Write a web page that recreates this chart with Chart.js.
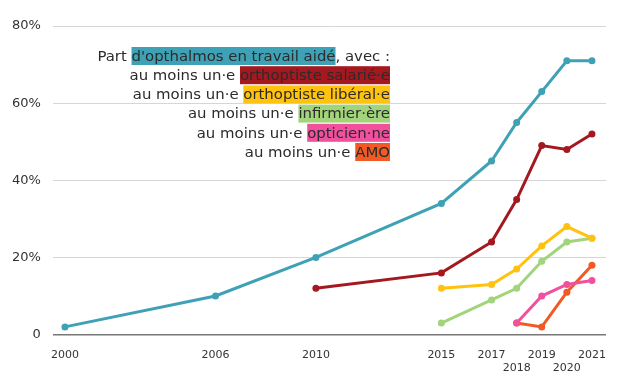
<!DOCTYPE html>
<html><head><meta charset="utf-8">
<script src="https://cdn.jsdelivr.net/npm/chart.js@4"></script>
<style>html,body{margin:0;padding:0;background:#fff}#w{width:625px;height:386px}</style>
</head><body><div id="w"><canvas id="c"></canvas></div>
<script>
const years = [2000, 2006, 2010, 2015, 2017, 2018, 2019, 2020, 2021];
const tickYears = [2000, 2006, 2010, 2015, 2017, 2018, 2019, 2020, 2021];
const lowerTickYears = [2018, 2020];
const yTicks = [0, 20, 40, 60, 80];
const travailAide = [2, 10, 20, 34, 45, 55, 63, 71, 71];
const orthoSalarieYears = [2010, 2015, 2017, 2018, 2019, 2020, 2021];
const orthoSalarie = [12, 16, 24, 35, 49, 48, 52];
const orthoLiberalYears = [2015, 2017, 2018, 2019, 2020, 2021];
const orthoLiberal = [12, 13, 17, 23, 28, 25];
const infirmierYears = [2015, 2017, 2018, 2019, 2020, 2021];
const infirmier = [3, 9, 12, 19, 24, 25];
const opticienYears = [2018, 2019, 2020, 2021];
const opticien = [3, 10, 13, 14];
const amoYears = [2018, 2019, 2020, 2021];
const amo = [3, 2, 11, 18];
const legendLines = [
  [["Part ", null], ["d'opthalmos en travail aidé", "#3fa1b5"], [", avec :", null]],
  [["au moins un·e ", null], ["orthoptiste salarié·e", "#a3191f"]],
  [["au moins un·e ", null], ["orthoptiste libéral·e", "#ffc20e"]],
  [["au moins un·e ", null], ["infirmier·ère", "#a1d47b"]],
  [["au moins un·e ", null], ["opticien·ne", "#f0509e"]],
  [["au moins un·e ", null], ["AMO", "#f15a24"]]
];
const FONT = "'DejaVu Sans', sans-serif";
function pts(xs, ys){ return xs.map((x,i)=>({x:x, y:ys[i]})); }
function ds(xs, ys, color){
  return {data: pts(xs, ys), borderColor: color, backgroundColor: color, borderWidth: 3,
    pointRadius: 3.5, pointHoverRadius: 3.5, pointBorderWidth: 0, tension: 0};
}
const annot = {
  id: 'annot',
  afterDraw(chart){
    const ctx = chart.ctx;
    ctx.save();
    ctx.font = "14.9px " + FONT;
    ctx.textBaseline = 'middle';
    const right = 390, y0 = 56, dy = 19.2;
    legendLines.forEach((line, i) => {
      const y = y0 + i*dy;
      const total = line.reduce((s,p)=>s+ctx.measureText(p[0]).width, 0);
      let x = right - total;
      line.forEach(p => {
        const w = ctx.measureText(p[0]).width;
        if (p[1]) { ctx.fillStyle = p[1]; ctx.fillRect(x, y-9, w, 18); }
        ctx.fillStyle = '#2b2b2b';
        ctx.fillText(p[0], x, y+1);
        x += w;
      });
    });
    ctx.restore();
  }
};
new Chart(document.getElementById('c'), {
  type: 'line',
  data: { datasets: [
    ds(years, travailAide, '#3fa1b5'),
    ds(orthoSalarieYears, orthoSalarie, '#a3191f'),
    ds(orthoLiberalYears, orthoLiberal, '#ffc20e'),
    ds(infirmierYears, infirmier, '#a1d47b'),
    ds(opticienYears, opticien, '#f0509e'),
    ds(amoYears, amo, '#f15a24')
  ]},
  options: {
    responsive: true, maintainAspectRatio: false, animation: false,
    layout: { padding: { top: 26, right: 19, bottom: 5, left: 0 } },
    plugins: { legend: { display: false }, tooltip: { enabled: false } },
    scales: {
      x: { type: 'linear', min: 1999.52, max: 2021.56,
        afterBuildTicks: a => { a.ticks = tickYears.map(v => ({value: v})); },
        ticks: { autoSkip: false, maxRotation: 0, color: '#333', font: {family: FONT, size: 11}, padding: 6,
          callback: v => lowerTickYears.includes(v) ? ['', String(v)] : String(v) },
        grid: { display: false }, border: { display: false } },
      y: { min: 0, max: 80,
        afterBuildTicks: a => { a.ticks = yTicks.map(v => ({value: v})); },
        ticks: { color: '#333', font: {family: FONT, size: 13}, padding: 12,
          callback: v => v === 0 ? '0' : v + '%' },
        grid: { color: c => c.tick.value === 0 ? '#777' : '#d6d6d6', lineWidth: c => c.tick.value === 0 ? 1.5 : 1, drawTicks: false },
        border: { display: false } }
    }
  },
  plugins: [annot]
});
</script></body></html>
